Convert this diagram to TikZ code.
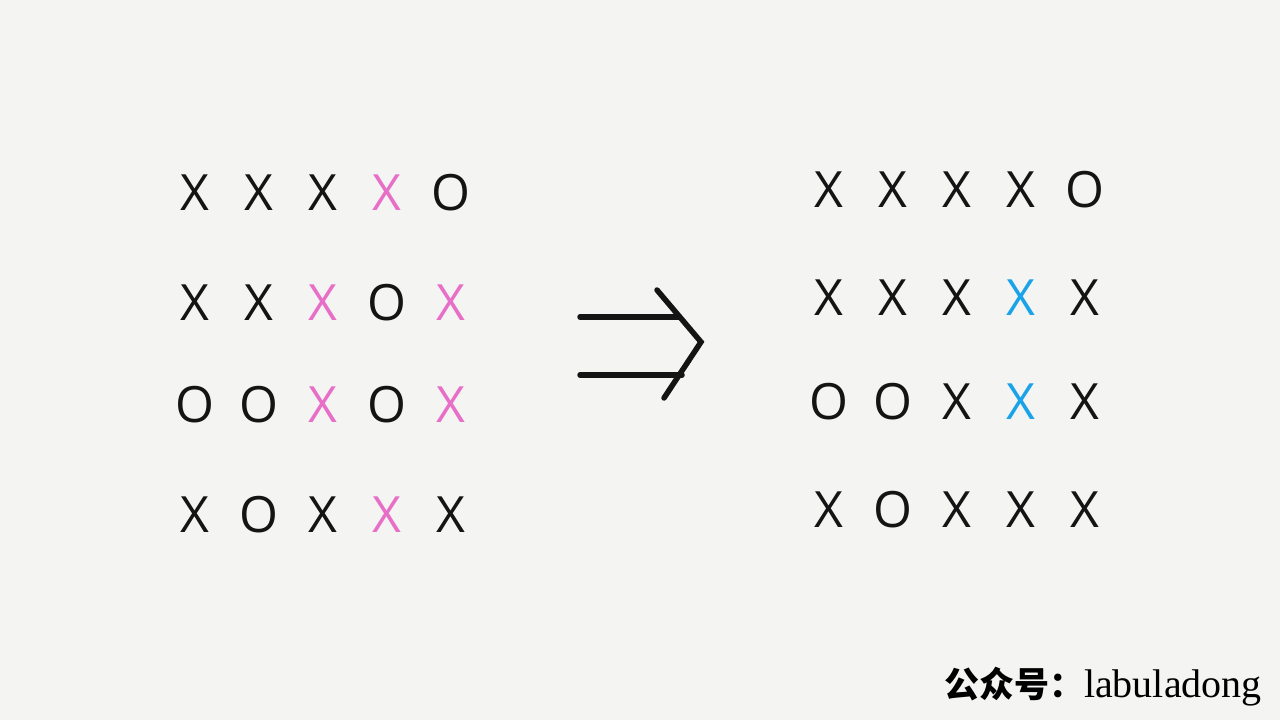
\documentclass[tikz,border=0pt]{standalone}
\usepackage{fontspec}
\setmainfont{Open Sans}
\newfontfamily\cjk{Noto Sans CJK SC}
\newfontfamily\wmserif{Liberation Serif}
\usepackage{tikz}
\usetikzlibrary{calc}
\usepackage{xcolor}
\definecolor{bgpaper}{HTML}{F4F4F2}
\definecolor{cellk}{HTML}{141414}
\definecolor{cellp}{HTML}{E86FC8}
\definecolor{cellb}{HTML}{1AA3E8}

\begin{document}
\begin{tikzpicture}[x=1pt, y=-1pt,
    cell/.style={font=\fontsize{50}{56}\selectfont, inner sep=0pt, anchor=center},
    arrowline/.style={line width=5.5pt, cellk, line cap=round, line join=miter}]
    % 背景
    \fill[bgpaper] (0,0) rectangle (1280,720);

    % 左边的棋盘
    \foreach \row/\y [count=\r] in {{X/k,X/k,X/k,X/p,O/k}/193,
                                   {X/k,X/k,X/p,O/k,X/p}/303,
                                   {O/k,O/k,X/p,O/k,X/p}/405,
                                   {X/k,O/k,X/k,X/p,X/k}/515} {
        \foreach \ch/\col [count=\c] in \row {
            \pgfmathsetmacro{\x}{195+64*(\c-1)}
            \node[cell, text=cell\col] (L\r\c) at (\x,\y) {\ch};
        }
    }

    % 右边的棋盘
    \foreach \row/\y [count=\r] in {{X/k,X/k,X/k,X/k,O/k}/190,
                                   {X/k,X/k,X/k,X/b,X/k}/298,
                                   {O/k,O/k,X/k,X/b,X/k}/402,
                                   {X/k,O/k,X/k,X/k,X/k}/510} {
        \foreach \ch/\col [count=\c] in \row {
            \pgfmathsetmacro{\x}{829+64*(\c-1)}
            \node[cell, text=cell\col] (R\r\c) at (\x,\y) {\ch};
        }
    }

    % 双线箭头
    \coordinate (up0) at (580,317);
    \coordinate (up1) at (678,317);
    \coordinate (lo0) at (580,375);
    \coordinate (lo1) at (682,375);
    \coordinate (hd0) at (657,290);
    \coordinate (tip) at (701,342);
    \coordinate (hd1) at (664,398);
    \draw[arrowline] (up0) -- (up1);
    \draw[arrowline] (lo0) -- (lo1);
    \draw[arrowline] (hd0) -- (tip) -- (hd1);

    % 水印
    \node[anchor=base east, inner sep=0pt] (mark) at (1262,697)
        {{\fontsize{35}{40}\selectfont\cjk\bfseries 公众号：}{\fontsize{40}{44}\selectfont\wmserif labuladong}};
\end{tikzpicture}
\end{document}
